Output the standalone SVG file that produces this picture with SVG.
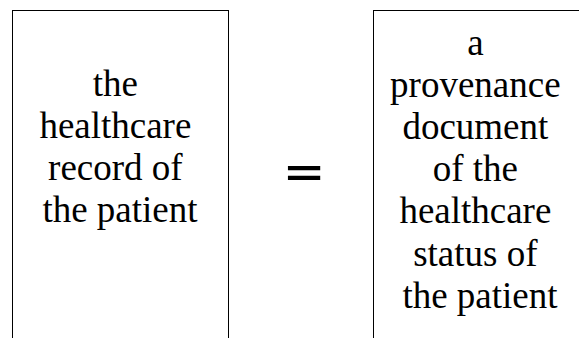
<svg xmlns="http://www.w3.org/2000/svg" width="579" height="338" viewBox="0 0 579 338">
  <style>
    .box { fill: #ffffff; stroke: #000000; stroke-width: 1; }
    .label { font-family: "Liberation Serif", "Times New Roman", serif; font-size: 37px; fill: #000000; text-anchor: middle; }
    .op { font-family: "Liberation Serif", "Times New Roman", serif; font-size: 64px; fill: #000000; stroke: #000000; stroke-width: 2.5; text-anchor: middle; }
  </style>
  <rect width="579" height="338" fill="#ffffff"/>
  <g id="record">
    <rect class="box" x="12.5" y="10.5" width="216" height="340"/>
    <text class="label" x="120" y="96">
      <tspan x="120" y="96">the</tspan>
      <tspan x="120" y="138">healthcare</tspan>
      <tspan x="120" y="180">record of</tspan>
      <tspan x="120" y="222">the patient</tspan>
    </text>
  </g>
  <g id="equals">
    <text class="op" transform="translate(304 187.5) scale(1 0.72)" x="0" y="0">=</text>
  </g>
  <g id="provenance">
    <rect class="box" x="373.5" y="10.5" width="213" height="340"/>
    <text class="label" x="480" y="55">
      <tspan x="480" y="55">a</tspan>
      <tspan x="480" y="97">provenance</tspan>
      <tspan x="480" y="139">document</tspan>
      <tspan x="480" y="181">of the</tspan>
      <tspan x="480" y="223">healthcare</tspan>
      <tspan x="480" y="266">status of</tspan>
      <tspan x="480" y="308">the patient</tspan>
    </text>
  </g>
</svg>
